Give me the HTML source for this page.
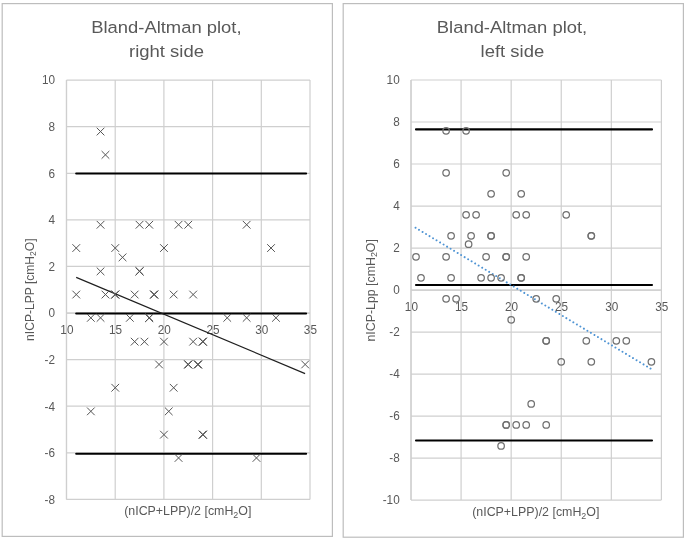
<!DOCTYPE html>
<html><head><meta charset="utf-8"><title>Bland-Altman plots</title>
<style>
html,body{margin:0;padding:0;background:#fff;}
body{width:685px;height:540px;overflow:hidden;}
svg{display:block;font-family:"Liberation Sans",sans-serif;}
.t{fill:#595959;font-size:16.8px;}
.a{fill:#595959;font-size:12px;}
.b{fill:#595959;font-size:12px;}
.g{stroke:#cfcfcf;stroke-width:1.2;fill:none;}
.k{stroke:#000;stroke-width:2.1;stroke-linecap:round;fill:none;}
.x{stroke:#555;stroke-width:1;fill:none;}
.c{stroke:#707070;stroke-width:1.25;fill:none;}
</style></head><body>
<svg width="685" height="540" viewBox="0 0 685 540">
<rect width="685" height="540" fill="#fff"/>

<rect x="2.2" y="3.6" width="330.2" height="532.8" fill="#fff" stroke="#bdbdbd" stroke-width="1.2"/>
<rect x="343.2" y="3.6" width="340.2" height="533.6" fill="#fff" stroke="#bdbdbd" stroke-width="1.2"/>
<path class="g" d="M66.50 80.10V499.40M115.20 80.10V499.40M163.90 80.10V499.40M212.60 80.10V499.40M261.30 80.10V499.40M310.00 80.10V499.40M66.50 499.40H310.00M66.50 452.81H310.00M66.50 406.22H310.00M66.50 359.63H310.00M66.50 313.04H310.00M66.50 266.46H310.00M66.50 219.87H310.00M66.50 173.28H310.00M66.50 126.69H310.00M66.50 80.10H310.00"/>
<path class="g" d="M411.00 80.00V500.10M461.08 80.00V500.10M511.16 80.00V500.10M561.24 80.00V500.10M611.32 80.00V500.10M661.40 80.00V500.10M411.00 500.10H661.40M411.00 458.09H661.40M411.00 416.08H661.40M411.00 374.07H661.40M411.00 332.06H661.40M411.00 290.05H661.40M411.00 248.04H661.40M411.00 206.03H661.40M411.00 164.02H661.40M411.00 122.01H661.40M411.00 80.00H661.40"/>
<path class="g" d="M66.50 80.10V499.40M66.50 313.04H310.00"/>
<path class="g" d="M411.00 80.00V500.10M411.00 290.05H661.40"/>
<text class="a" text-anchor="end" transform="translate(55.0 84.4) scale(0.98 1)">10</text>
<text class="a" text-anchor="end" transform="translate(55.0 131.0) scale(0.98 1)">8</text>
<text class="a" text-anchor="end" transform="translate(55.0 177.6) scale(0.98 1)">6</text>
<text class="a" text-anchor="end" transform="translate(55.0 224.2) scale(0.98 1)">4</text>
<text class="a" text-anchor="end" transform="translate(55.0 270.8) scale(0.98 1)">2</text>
<text class="a" text-anchor="end" transform="translate(55.0 317.3) scale(0.98 1)">0</text>
<text class="a" text-anchor="end" transform="translate(55.0 363.9) scale(0.98 1)">-2</text>
<text class="a" text-anchor="end" transform="translate(55.0 410.5) scale(0.98 1)">-4</text>
<text class="a" text-anchor="end" transform="translate(55.0 457.1) scale(0.98 1)">-6</text>
<text class="a" text-anchor="end" transform="translate(55.0 503.7) scale(0.98 1)">-8</text>
<text class="a" text-anchor="middle" transform="translate(66.9 334.0) scale(0.98 1)">10</text>
<text class="a" text-anchor="middle" transform="translate(115.6 334.0) scale(0.98 1)">15</text>
<text class="a" text-anchor="middle" transform="translate(164.3 334.0) scale(0.98 1)">20</text>
<text class="a" text-anchor="middle" transform="translate(213.0 334.0) scale(0.98 1)">25</text>
<text class="a" text-anchor="middle" transform="translate(261.7 334.0) scale(0.98 1)">30</text>
<text class="a" text-anchor="middle" transform="translate(310.4 334.0) scale(0.98 1)">35</text>
<text class="a" text-anchor="end" transform="translate(399.7 84.3) scale(0.98 1)">10</text>
<text class="a" text-anchor="end" transform="translate(399.7 126.3) scale(0.98 1)">8</text>
<text class="a" text-anchor="end" transform="translate(399.7 168.3) scale(0.98 1)">6</text>
<text class="a" text-anchor="end" transform="translate(399.7 210.3) scale(0.98 1)">4</text>
<text class="a" text-anchor="end" transform="translate(399.7 252.3) scale(0.98 1)">2</text>
<text class="a" text-anchor="end" transform="translate(399.7 294.4) scale(0.98 1)">0</text>
<text class="a" text-anchor="end" transform="translate(399.7 336.4) scale(0.98 1)">-2</text>
<text class="a" text-anchor="end" transform="translate(399.7 378.4) scale(0.98 1)">-4</text>
<text class="a" text-anchor="end" transform="translate(399.7 420.4) scale(0.98 1)">-6</text>
<text class="a" text-anchor="end" transform="translate(399.7 462.4) scale(0.98 1)">-8</text>
<text class="a" text-anchor="end" transform="translate(399.7 504.4) scale(0.98 1)">-10</text>
<text class="a" text-anchor="middle" transform="translate(411.4 310.7) scale(0.98 1)">10</text>
<text class="a" text-anchor="middle" transform="translate(461.5 310.7) scale(0.98 1)">15</text>
<text class="a" text-anchor="middle" transform="translate(511.6 310.7) scale(0.98 1)">20</text>
<text class="a" text-anchor="middle" transform="translate(561.6 310.7) scale(0.98 1)">25</text>
<text class="a" text-anchor="middle" transform="translate(611.7 310.7) scale(0.98 1)">30</text>
<text class="a" text-anchor="middle" transform="translate(661.8 310.7) scale(0.98 1)">35</text>
<text class="t" x="91.2" y="32.8" textLength="150.4" lengthAdjust="spacingAndGlyphs">Bland-Altman plot,</text>
<text class="t" x="129.0" y="56.7" textLength="75.0" lengthAdjust="spacingAndGlyphs">right side</text>
<text class="t" x="436.8" y="32.8" textLength="150.4" lengthAdjust="spacingAndGlyphs">Bland-Altman plot,</text>
<text class="t" x="480.6" y="56.7" textLength="63.6" lengthAdjust="spacingAndGlyphs">left side</text>
<text class="b" x="124.2" y="515.4" textLength="127.2" lengthAdjust="spacingAndGlyphs">(nICP+LPP)/2 [cmH<tspan font-size="8.6" dy="2.6">2</tspan><tspan dy="-2.6">O]</tspan></text>
<text class="b" x="472.2" y="516.4" textLength="127.2" lengthAdjust="spacingAndGlyphs">(nICP+LPP)/2 [cmH<tspan font-size="8.6" dy="2.6">2</tspan><tspan dy="-2.6">O]</tspan></text>
<text class="b" x="0.0" y="0.0" textLength="102.5" lengthAdjust="spacingAndGlyphs" transform="translate(33.8 340.9) rotate(-90)">nICP-LPP [cmH<tspan font-size="8.6" dy="2.6">2</tspan><tspan dy="-2.6">O]</tspan></text>
<text class="b" x="0.0" y="0.0" textLength="102.5" lengthAdjust="spacingAndGlyphs" transform="translate(374.8 341.6) rotate(-90)">nICP-Lpp [cmH<tspan font-size="8.6" dy="2.6">2</tspan><tspan dy="-2.6">O]</tspan></text>
<path class="k" d="M76.2 173.5H306.1"/>
<path class="k" d="M76.2 313.5H306.1"/>
<path class="k" d="M76.2 453.8H306.1"/>
<path class="k" d="M416.0 129.4H652.0"/>
<path class="k" d="M416.0 285.0H652.0"/>
<path class="k" d="M416.0 440.5H652.0"/>
<path d="M76.2 277.4L305.1 373.6" stroke="#1f1f1f" stroke-width="1.15" fill="none"/>
<path d="M415.5 227.7L652.4 369.7" stroke="#4f94d4" stroke-width="1.95" stroke-linecap="round" stroke-dasharray="0.01 4.08" fill="none"/>
<path class="x" d="M96.7 127.7l7.7 7.7M96.7 135.4l7.7 -7.7M101.6 151.0l7.7 7.7M101.6 158.7l7.7 -7.7M96.7 220.9l7.7 7.7M96.7 228.6l7.7 -7.7M135.7 220.9l7.7 7.7M135.7 228.6l7.7 -7.7M145.4 220.9l7.7 7.7M145.4 228.6l7.7 -7.7M174.7 220.9l7.7 7.7M174.7 228.6l7.7 -7.7M184.4 220.9l7.7 7.7M184.4 228.6l7.7 -7.7M242.8 220.9l7.7 7.7M242.8 228.6l7.7 -7.7M72.4 244.2l7.7 7.7M72.4 251.9l7.7 -7.7M111.4 244.2l7.7 7.7M111.4 251.9l7.7 -7.7M160.1 244.2l7.7 7.7M160.1 251.9l7.7 -7.7M267.2 244.2l7.7 7.7M267.2 251.9l7.7 -7.7M118.7 253.5l7.7 7.7M118.7 261.2l7.7 -7.7M96.7 267.5l7.7 7.7M96.7 275.2l7.7 -7.7M135.7 267.5l7.7 7.7M135.7 275.2l7.7 -7.7M135.7 267.5l7.7 7.7M135.7 275.2l7.7 -7.7M72.4 290.7l7.7 7.7M72.4 298.4l7.7 -7.7M101.6 290.7l7.7 7.7M101.6 298.4l7.7 -7.7M111.4 290.7l7.7 7.7M111.4 298.4l7.7 -7.7M111.4 290.7l7.7 7.7M111.4 298.4l7.7 -7.7M130.8 290.7l7.7 7.7M130.8 298.4l7.7 -7.7M150.3 290.7l7.7 7.7M150.3 298.4l7.7 -7.7M150.3 290.7l7.7 7.7M150.3 298.4l7.7 -7.7M169.8 290.7l7.7 7.7M169.8 298.4l7.7 -7.7M189.3 290.7l7.7 7.7M189.3 298.4l7.7 -7.7M87.0 314.0l7.7 7.7M87.0 321.7l7.7 -7.7M96.7 314.0l7.7 7.7M96.7 321.7l7.7 -7.7M126.0 314.0l7.7 7.7M126.0 321.7l7.7 -7.7M145.4 314.0l7.7 7.7M145.4 321.7l7.7 -7.7M145.4 314.0l7.7 7.7M145.4 321.7l7.7 -7.7M223.4 314.0l7.7 7.7M223.4 321.7l7.7 -7.7M242.8 314.0l7.7 7.7M242.8 321.7l7.7 -7.7M272.1 314.0l7.7 7.7M272.1 321.7l7.7 -7.7M130.8 337.8l7.7 7.7M130.8 345.5l7.7 -7.7M140.6 337.8l7.7 7.7M140.6 345.5l7.7 -7.7M160.1 337.8l7.7 7.7M160.1 345.5l7.7 -7.7M189.3 337.8l7.7 7.7M189.3 345.5l7.7 -7.7M199.0 337.8l7.7 7.7M199.0 345.5l7.7 -7.7M199.0 337.8l7.7 7.7M199.0 345.5l7.7 -7.7M155.2 360.6l7.7 7.7M155.2 368.3l7.7 -7.7M184.4 360.6l7.7 7.7M184.4 368.3l7.7 -7.7M184.4 360.6l7.7 7.7M184.4 368.3l7.7 -7.7M194.1 360.6l7.7 7.7M194.1 368.3l7.7 -7.7M194.1 360.6l7.7 7.7M194.1 368.3l7.7 -7.7M301.3 360.6l7.7 7.7M301.3 368.3l7.7 -7.7M111.4 383.9l7.7 7.7M111.4 391.6l7.7 -7.7M169.8 383.9l7.7 7.7M169.8 391.6l7.7 -7.7M87.0 407.5l7.7 7.7M87.0 415.2l7.7 -7.7M164.9 407.5l7.7 7.7M164.9 415.2l7.7 -7.7M160.1 430.8l7.7 7.7M160.1 438.5l7.7 -7.7M199.0 430.8l7.7 7.7M199.0 438.5l7.7 -7.7M199.0 430.8l7.7 7.7M199.0 438.5l7.7 -7.7M174.7 454.1l7.7 7.7M174.7 461.8l7.7 -7.7M252.6 454.1l7.7 7.7M252.6 461.8l7.7 -7.7"/>
<path class="x" d="M135.7 267.5l7.7 7.7M135.7 275.2l7.7 -7.7M111.4 290.7l7.7 7.7M111.4 298.4l7.7 -7.7M150.3 290.7l7.7 7.7M150.3 298.4l7.7 -7.7M145.4 314.0l7.7 7.7M145.4 321.7l7.7 -7.7M199.0 337.8l7.7 7.7M199.0 345.5l7.7 -7.7M184.4 360.6l7.7 7.7M184.4 368.3l7.7 -7.7M194.1 360.6l7.7 7.7M194.1 368.3l7.7 -7.7M199.0 430.8l7.7 7.7M199.0 438.5l7.7 -7.7"/>
<circle class="c" cx="446.1" cy="130.8" r="3.25"/>
<circle class="c" cx="466.1" cy="130.8" r="3.25"/>
<circle class="c" cx="446.1" cy="172.8" r="3.25"/>
<circle class="c" cx="506.2" cy="172.8" r="3.25"/>
<circle class="c" cx="491.1" cy="193.8" r="3.25"/>
<circle class="c" cx="521.2" cy="193.8" r="3.25"/>
<circle class="c" cx="466.1" cy="214.8" r="3.25"/>
<circle class="c" cx="476.1" cy="214.8" r="3.25"/>
<circle class="c" cx="516.2" cy="214.8" r="3.25"/>
<circle class="c" cx="526.2" cy="214.8" r="3.25"/>
<circle class="c" cx="566.2" cy="214.8" r="3.25"/>
<circle class="c" cx="451.1" cy="235.8" r="3.25"/>
<circle class="c" cx="471.1" cy="235.8" r="3.25"/>
<circle class="c" cx="491.1" cy="235.8" r="3.25"/>
<circle class="c" cx="491.1" cy="235.8" r="3.25"/>
<circle class="c" cx="591.3" cy="235.8" r="3.25"/>
<circle class="c" cx="591.3" cy="235.8" r="3.25"/>
<circle class="c" cx="468.6" cy="244.2" r="3.25"/>
<circle class="c" cx="416.0" cy="256.8" r="3.25"/>
<circle class="c" cx="446.1" cy="256.8" r="3.25"/>
<circle class="c" cx="486.1" cy="256.8" r="3.25"/>
<circle class="c" cx="506.2" cy="256.8" r="3.25"/>
<circle class="c" cx="506.2" cy="256.8" r="3.25"/>
<circle class="c" cx="526.2" cy="256.8" r="3.25"/>
<circle class="c" cx="421.0" cy="277.8" r="3.25"/>
<circle class="c" cx="451.1" cy="277.8" r="3.25"/>
<circle class="c" cx="481.1" cy="277.8" r="3.25"/>
<circle class="c" cx="491.1" cy="277.8" r="3.25"/>
<circle class="c" cx="501.1" cy="277.8" r="3.25"/>
<circle class="c" cx="521.2" cy="277.8" r="3.25"/>
<circle class="c" cx="521.2" cy="277.8" r="3.25"/>
<circle class="c" cx="446.1" cy="298.8" r="3.25"/>
<circle class="c" cx="456.1" cy="298.8" r="3.25"/>
<circle class="c" cx="536.2" cy="298.8" r="3.25"/>
<circle class="c" cx="556.2" cy="298.8" r="3.25"/>
<circle class="c" cx="511.2" cy="319.8" r="3.25"/>
<circle class="c" cx="546.2" cy="340.8" r="3.25"/>
<circle class="c" cx="546.2" cy="340.8" r="3.25"/>
<circle class="c" cx="586.3" cy="340.8" r="3.25"/>
<circle class="c" cx="616.3" cy="340.8" r="3.25"/>
<circle class="c" cx="626.3" cy="340.8" r="3.25"/>
<circle class="c" cx="561.2" cy="361.8" r="3.25"/>
<circle class="c" cx="591.3" cy="361.8" r="3.25"/>
<circle class="c" cx="651.4" cy="361.8" r="3.25"/>
<circle class="c" cx="531.2" cy="403.9" r="3.25"/>
<circle class="c" cx="506.2" cy="424.9" r="3.25"/>
<circle class="c" cx="506.2" cy="424.9" r="3.25"/>
<circle class="c" cx="516.2" cy="424.9" r="3.25"/>
<circle class="c" cx="526.2" cy="424.9" r="3.25"/>
<circle class="c" cx="546.2" cy="424.9" r="3.25"/>
<circle class="c" cx="501.1" cy="445.9" r="3.25"/>
</svg></body></html>
